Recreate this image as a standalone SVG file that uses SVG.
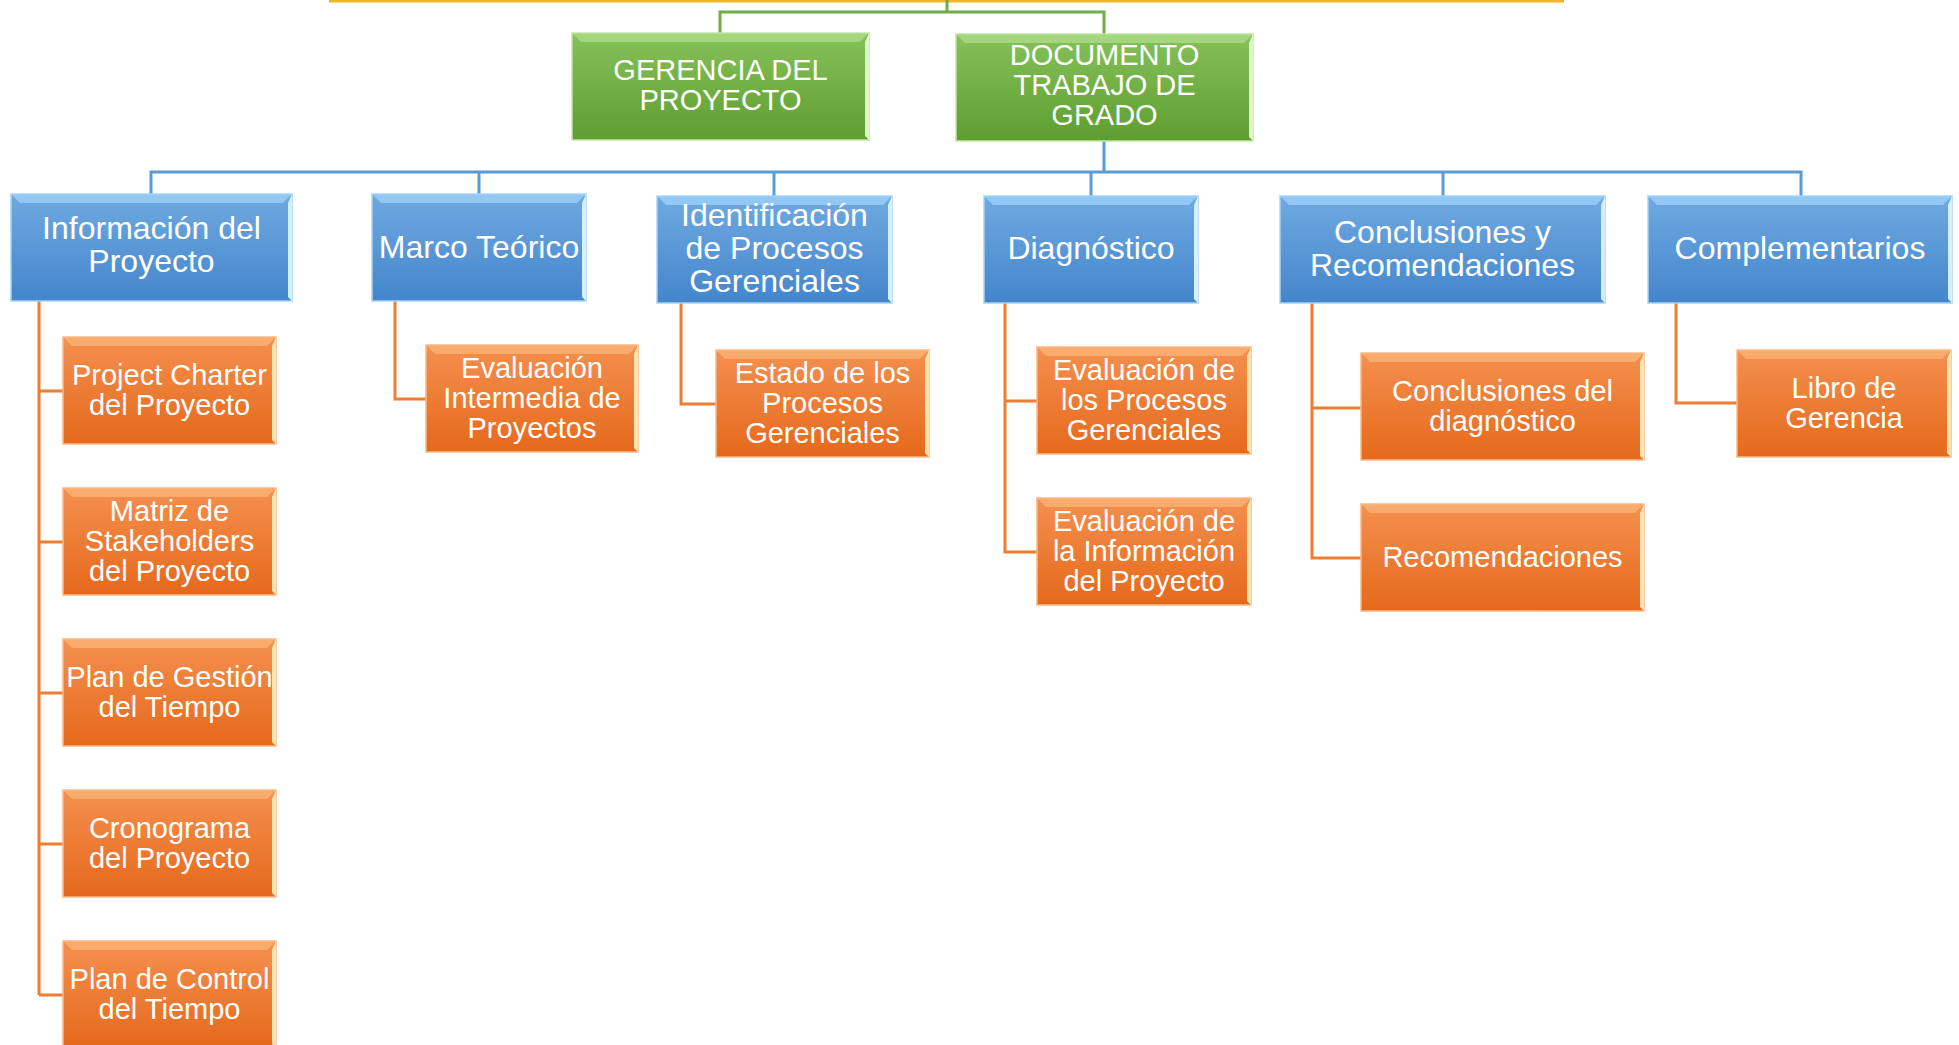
<svg xmlns="http://www.w3.org/2000/svg" width="1959" height="1045" viewBox="0 0 1959 1045">
<defs>
<linearGradient id="gG" x1="0" y1="0" x2="0" y2="1"><stop offset="0" stop-color="#86c15a"/><stop offset="1" stop-color="#5e9e30"/></linearGradient>
<linearGradient id="gB" x1="0" y1="0" x2="0" y2="1"><stop offset="0" stop-color="#6fa9e0"/><stop offset="1" stop-color="#4486cc"/></linearGradient>
<linearGradient id="gO" x1="0" y1="0" x2="0" y2="1"><stop offset="0" stop-color="#f4904f"/><stop offset="1" stop-color="#e5691b"/></linearGradient>
</defs>
<style>
.g{fill:url(#gG);stroke:#c4e6a8;stroke-width:1.5}
.b{fill:url(#gB);stroke:#a9d2f5;stroke-width:1.5}
.o{fill:url(#gO);stroke:#f9b98a;stroke-width:1.5}
.gt{fill:#b2e08f;opacity:.7}.bt{fill:#9fd3fa;opacity:.75}.ot{fill:#fbb57a;opacity:.75}
.gr{fill:#e0f6c8}.br{fill:#d4efff}.or{fill:#fee2b0}
text{font-family:"Liberation Sans",Arial,sans-serif;fill:#fff;text-anchor:middle;transform:translate(0px,-1.5px)}
.tg{font-size:29px}.tb{font-size:32px}.to{font-size:29px}
.cg{stroke:#70ad47;stroke-width:3;fill:none}
.cb{stroke:#5b9bd5;stroke-width:3;fill:none}
.co{stroke:#ed7d31;stroke-width:3;fill:none}
</style>
<g id="connectors">
<line x1="329" y1="1" x2="1564" y2="1" stroke="#eeb81e" stroke-width="3"/>
<path class="cg" d="M947 0V12M720 33V12H1104V34"/>
<path class="cb" d="M1104 141V172M151 194V172H1801V196M479 172V194M774 172V196M1091 172V196M1443 172V196"/>
<path class="co" d="M39 301V995M39 391H63M39 542H63M39 693H63M39 844H63M39 995H63"/>
<path class="co" d="M395 301V399H426"/>
<path class="co" d="M681 303V404H716"/>
<path class="co" d="M1005 303V552H1037M1005 401H1037"/>
<path class="co" d="M1312 303V558H1361M1312 408H1361"/>
<path class="co" d="M1676 303V403H1737"/>
</g>
<g id="n-gerencia">
<rect class="g" x="572" y="33" width="297" height="107"/>
<path class="gt" d="M572 33H869L860 42H581Z"/><path class="gr" d="M869 33V140L865 136V42Z"/>
<text class="tg" x="720.5" y="81">GERENCIA DEL</text><text class="tg" x="720.5" y="111">PROYECTO</text>
</g>
<g id="n-documento">
<rect class="g" x="956" y="34" width="297" height="107"/>
<path class="gt" d="M956 34H1253L1244 43H965Z"/><path class="gr" d="M1253 34V141L1249 137V43Z"/>
<text class="tg" x="1104.5" y="66">DOCUMENTO</text><text class="tg" x="1104.5" y="96">TRABAJO DE</text><text class="tg" x="1104.5" y="126">GRADO</text>
</g>
<g id="n-info">
<rect class="b" x="11" y="194" width="281" height="107"/>
<path class="bt" d="M11 194H292L283 203H20Z"/><path class="br" d="M292 194V301L288 297V203Z"/>
<text class="tb" x="151.5" y="240.5">Información del</text><text class="tb" x="151.5" y="273.5">Proyecto</text>
</g>
<g id="n-marco">
<rect class="b" x="372" y="194" width="214" height="107"/>
<path class="bt" d="M372 194H586L577 203H381Z"/><path class="br" d="M586 194V301L582 297V203Z"/>
<text class="tb" x="479" y="259">Marco Teórico</text>
</g>
<g id="n-identificacion">
<rect class="b" x="657" y="196" width="235" height="107"/>
<path class="bt" d="M657 196H892L883 205H666Z"/><path class="br" d="M892 196V303L888 299V205Z"/>
<text class="tb" x="774.5" y="227.5">Identificación</text><text class="tb" x="774.5" y="260.5">de Procesos</text><text class="tb" x="774.5" y="293.5">Gerenciales</text>
</g>
<g id="n-diagnostico">
<rect class="b" x="984" y="196" width="214" height="107"/>
<path class="bt" d="M984 196H1198L1189 205H993Z"/><path class="br" d="M1198 196V303L1194 299V205Z"/>
<text class="tb" x="1091" y="260.5">Diagnóstico</text>
</g>
<g id="n-conclusiones">
<rect class="b" x="1280" y="196" width="325" height="107"/>
<path class="bt" d="M1280 196H1605L1596 205H1289Z"/><path class="br" d="M1605 196V303L1601 299V205Z"/>
<text class="tb" x="1442.5" y="244.5">Conclusiones y</text><text class="tb" x="1442.5" y="277.5">Recomendaciones</text>
</g>
<g id="n-complementarios">
<rect class="b" x="1648" y="196" width="304" height="107"/>
<path class="bt" d="M1648 196H1952L1943 205H1657Z"/><path class="br" d="M1952 196V303L1948 299V205Z"/>
<text class="tb" x="1800" y="260.5">Complementarios</text>
</g>
<g id="n-charter">
<rect class="o" x="63" y="337" width="213" height="107"/>
<path class="ot" d="M63 337H276L267 346H72Z"/><path class="or" d="M276 337V444L272 440V346Z"/>
<text class="to" x="169.5" y="386">Project Charter</text><text class="to" x="169.5" y="416">del Proyecto</text>
</g>
<g id="n-stakeholders">
<rect class="o" x="63" y="488" width="213" height="107"/>
<path class="ot" d="M63 488H276L267 497H72Z"/><path class="or" d="M276 488V595L272 591V497Z"/>
<text class="to" x="169.5" y="522">Matriz de</text><text class="to" x="169.5" y="552">Stakeholders</text><text class="to" x="169.5" y="582">del Proyecto</text>
</g>
<g id="n-gestion">
<rect class="o" x="63" y="639" width="213" height="107"/>
<path class="ot" d="M63 639H276L267 648H72Z"/><path class="or" d="M276 639V746L272 742V648Z"/>
<text class="to" x="169.5" y="688">Plan de Gestión</text><text class="to" x="169.5" y="718">del Tiempo</text>
</g>
<g id="n-cronograma">
<rect class="o" x="63" y="790" width="213" height="107"/>
<path class="ot" d="M63 790H276L267 799H72Z"/><path class="or" d="M276 790V897L272 893V799Z"/>
<text class="to" x="169.5" y="839">Cronograma</text><text class="to" x="169.5" y="869">del Proyecto</text>
</g>
<g id="n-control">
<rect class="o" x="63" y="941" width="213" height="107"/>
<path class="ot" d="M63 941H276L267 950H72Z"/><path class="or" d="M276 941V1048L272 1044V950Z"/>
<text class="to" x="169.5" y="990">Plan de Control</text><text class="to" x="169.5" y="1020">del Tiempo</text>
</g>
<g id="n-intermedia">
<rect class="o" x="426" y="345" width="212" height="107"/>
<path class="ot" d="M426 345H638L629 354H435Z"/><path class="or" d="M638 345V452L634 448V354Z"/>
<text class="to" x="532" y="379">Evaluación</text><text class="to" x="532" y="409">Intermedia de</text><text class="to" x="532" y="439">Proyectos</text>
</g>
<g id="n-estado">
<rect class="o" x="716" y="350" width="213" height="107"/>
<path class="ot" d="M716 350H929L920 359H725Z"/><path class="or" d="M929 350V457L925 453V359Z"/>
<text class="to" x="822.5" y="384">Estado de los</text><text class="to" x="822.5" y="414">Procesos</text><text class="to" x="822.5" y="444">Gerenciales</text>
</g>
<g id="n-evalprocesos">
<rect class="o" x="1037" y="347" width="214" height="107"/>
<path class="ot" d="M1037 347H1251L1242 356H1046Z"/><path class="or" d="M1251 347V454L1247 450V356Z"/>
<text class="to" x="1144" y="381">Evaluación de</text><text class="to" x="1144" y="411">los Procesos</text><text class="to" x="1144" y="441">Gerenciales</text>
</g>
<g id="n-evalinfo">
<rect class="o" x="1037" y="498" width="214" height="107"/>
<path class="ot" d="M1037 498H1251L1242 507H1046Z"/><path class="or" d="M1251 498V605L1247 601V507Z"/>
<text class="to" x="1144" y="532">Evaluación de</text><text class="to" x="1144" y="562">la Información</text><text class="to" x="1144" y="592">del Proyecto</text>
</g>
<g id="n-concdiag">
<rect class="o" x="1361" y="353" width="283" height="107"/>
<path class="ot" d="M1361 353H1644L1635 362H1370Z"/><path class="or" d="M1644 353V460L1640 456V362Z"/>
<text class="to" x="1502.5" y="402">Conclusiones del</text><text class="to" x="1502.5" y="432">diagnóstico</text>
</g>
<g id="n-recomendaciones">
<rect class="o" x="1361" y="504" width="283" height="107"/>
<path class="ot" d="M1361 504H1644L1635 513H1370Z"/><path class="or" d="M1644 504V611L1640 607V513Z"/>
<text class="to" x="1502.5" y="568">Recomendaciones</text>
</g>
<g id="n-libro">
<rect class="o" x="1737" y="350" width="214" height="107"/>
<path class="ot" d="M1737 350H1951L1942 359H1746Z"/><path class="or" d="M1951 350V457L1947 453V359Z"/>
<text class="to" x="1844" y="399">Libro de</text><text class="to" x="1844" y="429">Gerencia</text>
</g>
</svg>
